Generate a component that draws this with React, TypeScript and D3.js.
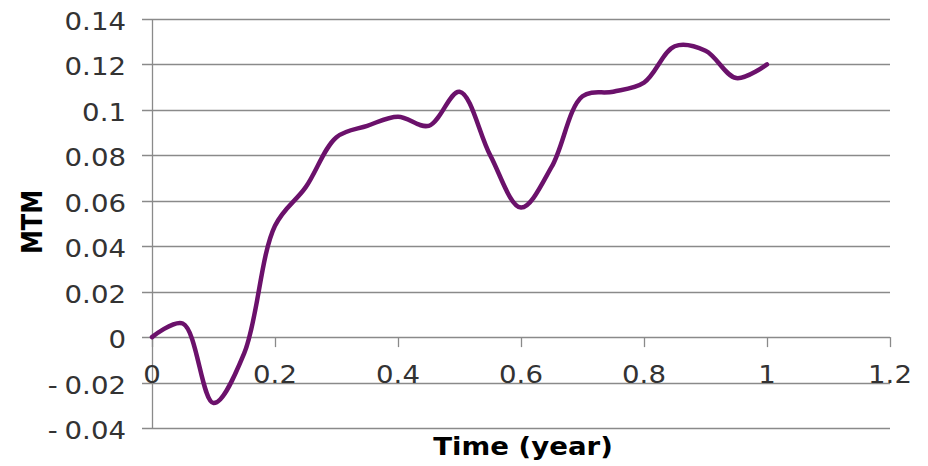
import React from "react";
import * as d3 from "d3";

const timeValues = [0, 0.05, 0.1, 0.15, 0.2, 0.25, 0.3, 0.35, 0.4, 0.45, 0.5, 0.55, 0.6, 0.65, 0.7, 0.75, 0.8, 0.85, 0.9, 0.95, 1.0];
const mtmValues = [0, 0.006, -0.029, -0.007, 0.049, 0.066, 0.088, 0.093, 0.097, 0.093, 0.108, 0.08, 0.057, 0.075, 0.106, 0.108, 0.112, 0.128, 0.126, 0.114, 0.12];
const xTicks = [0, 0.2, 0.4, 0.6, 0.8, 1, 1.2];
const yTicks = [-0.04, -0.02, 0, 0.02, 0.04, 0.06, 0.08, 0.1, 0.12, 0.14];

const W = 928;
const H = 466;
const left = 152;
const right = 890;
const top = 19;
const bottom = 428;
const STRETCH = 1.15;
const FONT = "'DejaVu Sans', Verdana, sans-serif";

export default function App() {
  const x = d3.scaleLinear().domain([0, 1.2]).range([left, right]);
  const y = d3.scaleLinear().domain([-0.04, 0.14]).range([bottom, top]);
  const pts = timeValues.map((t, i) => [t, mtmValues[i]] as [number, number]);
  const line = d3
    .line<[number, number]>()
    .x((d) => x(d[0]))
    .y((d) => y(d[1]))
    .curve(d3.curveCatmullRom.alpha(0.5));
  const fmt = (v: number) => String(Math.round(v * 100) / 100);
  const grid = "#8a8a8a";
  return (
    <svg
      width={W}
      height={H}
      style={{ position: "absolute", left: 0, top: 0, background: "#fff" }}
    >
      <rect x={0} y={0} width={W} height={H} fill="#fff" />
      {yTicks.map((v) => (
        <line
          key={"g" + v}
          x1={left - 10}
          x2={right}
          y1={Math.round(y(v)) + 0.5}
          y2={Math.round(y(v)) + 0.5}
          stroke={grid}
          strokeWidth={1.3}
        />
      ))}
      <line x1={left + 0.5} x2={left + 0.5} y1={top} y2={bottom} stroke={grid} strokeWidth={1.3} />
      {xTicks.map((v) => (
        <line
          key={"xt" + v}
          x1={Math.round(x(v)) + 0.5}
          x2={Math.round(x(v)) + 0.5}
          y1={y(0)}
          y2={y(0) + 10}
          stroke={grid}
          strokeWidth={1.3}
        />
      ))}
      {yTicks.map((v) => {
        const s = fmt(v);
        const neg = s.startsWith("-");
        return (
          <text
            key={"yl" + v}
            transform={`translate(126,${y(v) + 11}) scale(${STRETCH},1)`}
            textAnchor="end"
            fontFamily={FONT}
            fontSize={24}
            fill="#333"
          >
            {neg ? (
              <>
                <tspan>-</tspan>
                <tspan dx={6}>{s.slice(1)}</tspan>
              </>
            ) : (
              s
            )}
          </text>
        );
      })}
      {xTicks.map((v) => (
        <text
          key={"xl" + v}
          transform={`translate(${x(v)},383) scale(${STRETCH},1)`}
          textAnchor="middle"
          fontFamily={FONT}
          fontSize={24}
          fill="#333"
        >
          {fmt(v)}
        </text>
      ))}
      <path d={line(pts) || ""} fill="none" stroke="#6b116b" strokeWidth={4.5} strokeLinejoin="round" strokeLinecap="round" />
      <text
        transform={`translate(523,455) scale(${STRETCH},1)`}
        textAnchor="middle"
        fontFamily={FONT}
        fontWeight="bold"
        fontSize={24}
        fill="#000"
      >
        Time (year)
      </text>
      <text
        transform={`translate(42,222) scale(${STRETCH},1) rotate(-90)`}
        textAnchor="middle"
        fontFamily={FONT}
        fontWeight="bold"
        fontSize={24}
        fill="#000"
      >
        MTM
      </text>
    </svg>
  );
}
